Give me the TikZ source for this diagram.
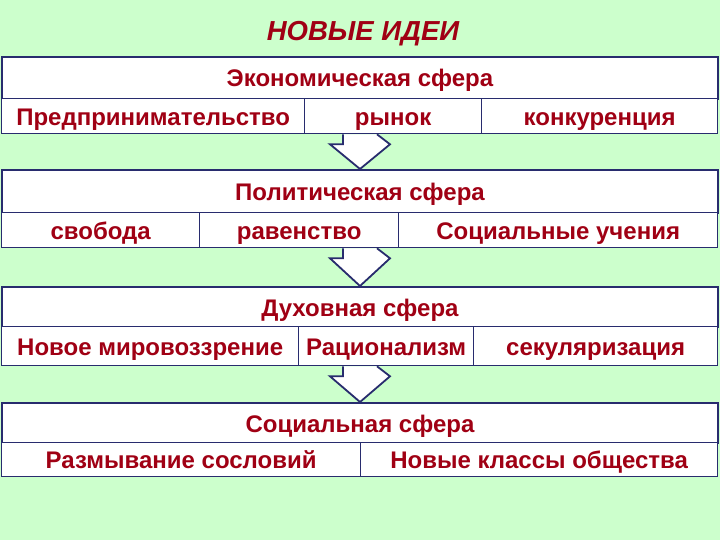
\documentclass[tikz,border=0pt]{standalone}
\usepackage{fontspec}
\setmainfont{Liberation Sans}
\usetikzlibrary{calc}
\definecolor{bg}{RGB}{204,255,204}
\definecolor{navy}{RGB}{40,44,110}
\definecolor{txt}{RGB}{160,0,20}
\tikzset{
  cell/.style={draw=navy, line width=1.3pt, fill=white, anchor=north west, inner sep=0pt,
    text=txt, font=\fontsize{24}{26}\selectfont\bfseries, text height=20pt, text depth=2pt},
  head/.style={cell, line width=2pt},
  bigarrow/.style={draw=navy, line width=1.8pt, fill=white, line join=miter}
}
\begin{document}
\begin{tikzpicture}[x=1pt,y=-1pt]
\fill[bg] (0,0) rectangle (720,540);
\useasboundingbox (0,0) rectangle (720,540);
\node[text=txt, font=\fontsize{27.5}{30}\selectfont\bfseries\itshape] (title) at (363,34) {НОВЫЕ ИДЕИ};
% block 1
\node[head, minimum width=716, minimum height=42] (h1) at (1,56) {Экономическая сфера};
\node[cell, minimum width=303, minimum height=35] (c11) at (1,98) {Предпринимательство};
\node[cell, minimum width=177, minimum height=35] (c12) at (304,98) {рынок};
\node[cell, minimum width=236, minimum height=35] (c13) at (481,98) {конкуренция};
% block 2
\node[head, minimum width=716, minimum height=43] (h2) at (1,169) {Политическая сфера};
\node[cell, minimum width=198, minimum height=35] (c21) at (1,212) {свобода};
\node[cell, minimum width=199, minimum height=35] (c22) at (199,212) {равенство};
\node[cell, minimum width=319, minimum height=35] (c23) at (398,212) {Социальные учения};
% block 3
\node[head, minimum width=716, minimum height=40] (h3) at (1,286) {Духовная сфера};
\node[cell, minimum width=297, minimum height=39] (c31) at (1,326) {Новое мировоззрение};
\node[cell, minimum width=175, minimum height=39] (c32) at (298,326) {Рационализм};
\node[cell, minimum width=244, minimum height=39] (c33) at (473,326) {секуляризация};
% block 4
\node[head, minimum width=716, minimum height=40] (h4) at (1,402) {Социальная сфера};
\node[cell, minimum width=359, minimum height=34] (c41) at (1,442) {Размывание сословий};
\node[cell, minimum width=357, minimum height=34] (c42) at (360,442) {Новые классы общества};
% arrows
\coordinate (a1) at (h1.center |- c12.south);
\coordinate (a2) at (h2.center |- c22.south);
\coordinate (a3) at (h3.center |- c32.south);
\draw[bigarrow] ($(a1)+(-17,0)$) -- ($(a1)+(-17,10)$) -- ($(a1)+(-30,10)$) -- (h2.north) -- ($(a1)+(30,10)$) -- ($(a1)+(17,0)$);
\draw[bigarrow] ($(a2)+(-17,0)$) -- ($(a2)+(-17,10)$) -- ($(a2)+(-30,10)$) -- (h3.north) -- ($(a2)+(30,10)$) -- ($(a2)+(17,0)$);
\draw[bigarrow] ($(a3)+(-17,0)$) -- ($(a3)+(-17,10)$) -- ($(a3)+(-30,10)$) -- (h4.north) -- ($(a3)+(30,10)$) -- ($(a3)+(17,0)$);
\end{tikzpicture}
\end{document}
